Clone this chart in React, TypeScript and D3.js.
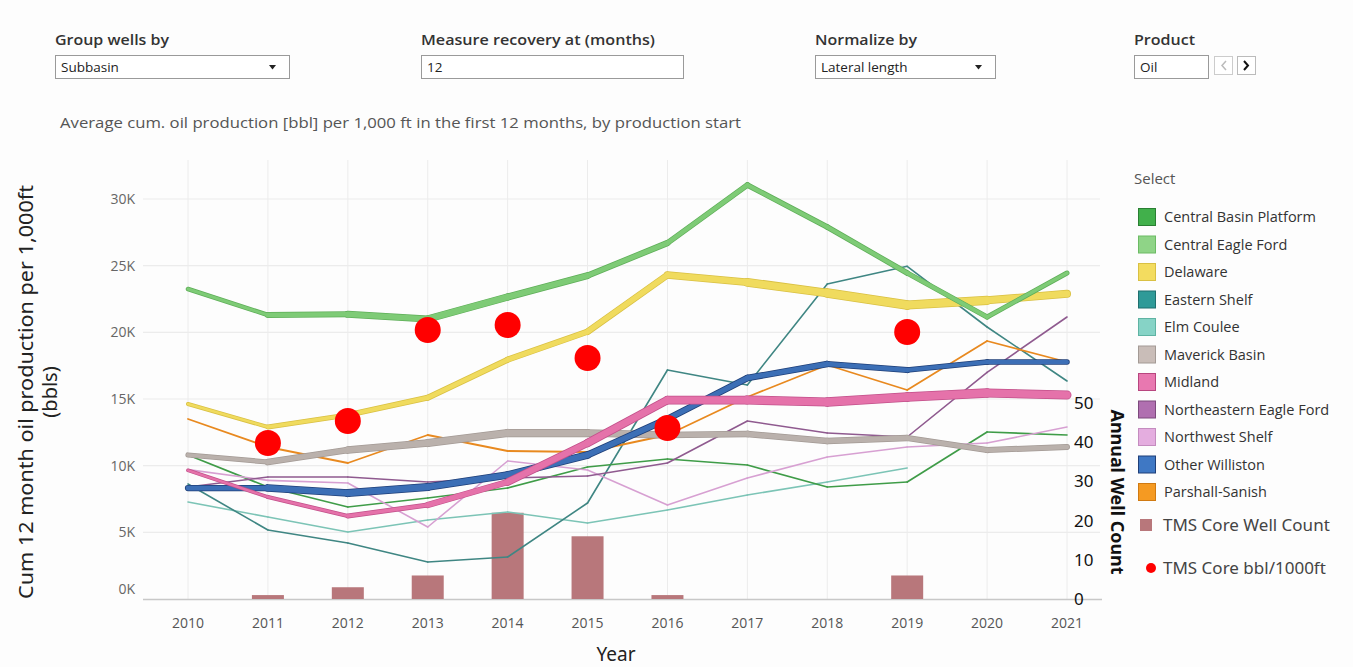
import React from "react";
import * as d3 from "d3";

const years = [2010, 2011, 2012, 2013, 2014, 2015, 2016, 2017, 2018, 2019, 2020, 2021];
const yTicks = [0, 5000, 10000, 15000, 20000, 25000, 30000];
const rightTicks = [0, 10, 20, 30, 40, 50];

const centralBasinPlatform = [10800, 8400, 6900, 7575, 8325, 9900, 10500, 10050, 8400, 8775, 12525, 12300];
const centralEagleFord = [23250, 21300, 21350, 21000, 22650, 24250, 26700, 31050, 27900, 24450, 21150, 24450];
const delaware = [14625, 12900, 13800, 15100, 17950, 20050, 24300, 23750, 22950, 22050, 22400, 22900];
const easternShelf = [8625, 5175, 4200, 2775, 3150, 7200, 17175, 16050, 23625, 24950, 20400, 16350];
const elmCoulee = [7275, 6150, 5025, 5925, 6525, 5700, 6675, 7800, 8775, 9825, null, null];
const maverickBasin = [10800, 10275, 11175, 11700, 12450, 12450, 12300, 12375, 11850, 12075, 11175, 11400];
const midland = [9650, 7650, 6225, 7050, 8775, 11700, 14925, 14925, 14775, 15150, 15450, 15300];
const northeasternEagleFord = [8400, 9150, 9150, 8775, 9075, 9225, 10200, 13350, 12450, 12150, 17000, 21150];
const northwestShelf = [9700, 8900, 8700, 5400, 10350, 9675, 7050, 9075, 10650, 11400, 11700, 12900];
const otherWilliston = [8325, 8325, 7950, 8400, 9300, 10800, 13500, 16575, 17625, 17175, 17775, 17775];
const parshallSanish = [13500, 11400, 10200, 12300, 11100, 11025, 12300, 15150, 17550, 15675, 19350, 17775];

const tmsYears = [2011, 2012, 2013, 2014, 2015, 2016, 2019];
const tmsWellCount = [1, 3, 6, 22, 16, 1, 6];
const tmsBbl = [11700, 13350, 20175, 20550, 18075, 12825, 20025];

type Series = { name: string; values: (number | null)[]; color: string; border: string; widths: number[]; legend: string; legendBorder: string };

const thin = (w: number) => years.map(() => w);

const series: Series[] = [
  { name: "Elm Coulee", values: elmCoulee, color: "#7cc4b6", border: "", widths: thin(1.6), legend: "#86d3c6", legendBorder: "#5fb3a3" },
  { name: "Eastern Shelf", values: easternShelf, color: "#3f8683", border: "", widths: thin(1.6), legend: "#2f9a98", legendBorder: "#1f6f6e" },
  { name: "Central Basin Platform", values: centralBasinPlatform, color: "#3f9c48", border: "", widths: thin(1.7), legend: "#41b04b", legendBorder: "#2a7f33" },
  { name: "Northwest Shelf", values: northwestShelf, color: "#d7a0d2", border: "", widths: thin(1.6), legend: "#e4addf", legendBorder: "#c48cbf" },
  { name: "Northeastern Eagle Ford", values: northeasternEagleFord, color: "#8f5a8f", border: "", widths: thin(1.6), legend: "#b06fb0", legendBorder: "#7d4a7d" },
  { name: "Parshall-Sanish", values: parshallSanish, color: "#e8891f", border: "", widths: thin(1.8), legend: "#f59a22", legendBorder: "#d07a12" },
  { name: "Maverick Basin", values: maverickBasin, color: "#bab1ac", border: "#a39a95", widths: [3, 4.5, 6, 6.5, 7, 6.5, 5.5, 5, 5, 5, 4.5, 4.5], legend: "#c9bdb8", legendBorder: "#a39a95" },
  { name: "Other Williston", values: otherWilliston, color: "#3c6fb6", border: "#1f3f78", widths: [4, 5.5, 7, 6.5, 6, 6, 5.5, 5, 5, 4.5, 4, 4], legend: "#3f78c4", legendBorder: "#1f3f78" },
  { name: "Midland", values: midland, color: "#e572aa", border: "#c2508a", widths: [2, 2.5, 3, 4, 6, 6.5, 7, 7.5, 8, 8, 8, 7], legend: "#e878b0", legendBorder: "#b8467f" },
  { name: "Delaware", values: delaware, color: "#f0db5e", border: "#d9c043", widths: [2, 3, 4, 4.5, 4.5, 5, 5.5, 6.5, 8, 8.5, 7, 6], legend: "#f3dc5f", legendBorder: "#d9c043" },
  { name: "Central Eagle Ford", values: centralEagleFord, color: "#7ecb76", border: "#5eae58", widths: [2, 4, 5, 6, 6, 5, 4.5, 4, 4, 4, 3.5, 3.5], legend: "#8fd487", legendBorder: "#6cbb64" },
];

const legendOrder = [
  "Central Basin Platform", "Central Eagle Ford", "Delaware", "Eastern Shelf", "Elm Coulee", "Maverick Basin",
  "Midland", "Northeastern Eagle Ford", "Northwest Shelf", "Other Williston", "Parshall-Sanish",
];

const W = 1353, H = 667;
const FONT = "'Open Sans', 'Noto Sans', sans-serif";
const CAL = "'Noto Sans', 'Open Sans', sans-serif";

export default function App() {
  const x = d3.scaleLinear().domain([2010, 2021]).range([188, 1067]);
  const y = d3.scaleLinear().domain([0, 30000]).range([599, 199]);
  const yR = d3.scaleLinear().domain([0, 50]).range([599, 403]);

  const segments = (s: Series) => {
    const out: { x1: number; y1: number; x2: number; y2: number; w: number; k: string }[] = [];
    for (let i = 0; i < years.length - 1; i++) {
      const a = s.values[i], b = s.values[i + 1];
      if (a == null || b == null) continue;
      out.push({ x1: x(years[i]), y1: y(a), x2: x(years[i + 1]), y2: y(b), w: (s.widths[i] + s.widths[i + 1]) / 2, k: s.name + i });
    }
    return out;
  };

  const controls = [
    { label: "Group wells by", x: 55, w: 234, value: "Subbasin", drop: true, tl: 114 },
    { label: "Measure recovery at (months)", x: 421, w: 262, value: "12", drop: false, tl: 234 },
    { label: "Normalize by", x: 815, w: 180, value: "Lateral length", drop: true, tl: 102 },
    { label: "Product", x: 1134, w: 74, value: "Oil", drop: false, tl: 61 },
  ];

  return (
    <svg width={W} height={H} style={{ position: "absolute", left: 0, top: 0, background: "#fff" }} fontFamily={FONT}>
      <rect x={0} y={0} width={W} height={H} fill="#fdfdfd" />
      {/* controls */}
      {controls.map((c) => (
        <g key={c.label}>
          <text x={c.x} y={45} fontSize={15} fontWeight={600} fill="#333" textLength={c.tl} lengthAdjust="spacingAndGlyphs">{c.label}</text>
          <rect x={c.x + 0.5} y={55.5} width={c.w} height={23} fill="#fff" stroke="#9a9a9a" />
          <text x={c.x + 6} y={72} fontSize={13.5} fill="#222">{c.value}</text>
          {c.drop && <path d={`M${c.x + c.w - 20},65 l7,0 l-3.5,4.5z`} fill="#222" />}
        </g>
      ))}
      <rect x={1214.5} y={56.5} width={18} height={18} fill="#fff" stroke="#ccc" />
      <path d="M1226,61 l-4,4.5 l4,4.5" fill="none" stroke="#bbb" strokeWidth={1.5} />
      <rect x={1237.5} y={56.5} width={18} height={18} fill="#fff" stroke="#bbb" />
      <path d="M1244,61 l4,4.5 l-4,4.5" fill="none" stroke="#111" strokeWidth={2} />

      <text x={60} y={128} fontSize={15} fill="#555" textLength={681} lengthAdjust="spacingAndGlyphs">Average cum. oil production [bbl] per 1,000 ft in the first 12 months, by production start</text>

      {/* grid */}
      {years.map((yr) => (
        <line key={yr} x1={x(yr)} x2={x(yr)} y1={160} y2={599} stroke="#ececec" strokeWidth={1} />
      ))}
      {yTicks.filter((t) => t > 0).map((t) => (
        <line key={t} x1={143} x2={1100} y1={y(t)} y2={y(t)} stroke="#ececec" strokeWidth={1.2} />
      ))}
      <line x1={143} x2={1102} y1={599.5} y2={599.5} stroke="#c8c8c8" strokeWidth={1.5} />

      {/* bars */}
      {tmsYears.map((yr, i) => (
        <rect key={yr} x={x(yr) - 16} y={yR(tmsWellCount[i])} width={32} height={599 - yR(tmsWellCount[i])} fill="#b8777b" />
      ))}

      {/* lines */}
      {series.map((s) => (
        <g key={s.name}>
          {s.border && segments(s).map((g) => (
            <line key={"b" + g.k} x1={g.x1} y1={g.y1} x2={g.x2} y2={g.y2} stroke={s.border} strokeWidth={g.w + 1.5} strokeLinecap="round" />
          ))}
          {segments(s).map((g) => (
            <line key={"f" + g.k} x1={g.x1} y1={g.y1} x2={g.x2} y2={g.y2} stroke={s.color} strokeWidth={g.w} strokeLinecap="round" />
          ))}
        </g>
      ))}

      {/* red dots */}
      {tmsYears.map((yr, i) => (
        <circle key={yr} cx={x(yr)} cy={y(tmsBbl[i])} r={13} fill="#ff0000" />
      ))}

      {/* left axis */}
      {yTicks.map((t) => (
        <text key={t} x={135} y={Math.min(y(t), 589)} dy="0.35em" textAnchor="end" fontSize={14} fill="#666">
          {`${t / 1000}K`}
        </text>
      ))}
      <g transform="translate(33,392) rotate(-90)">
        <text x={0} y={0} textAnchor="middle" fontSize={20} fill="#222" fontFamily={CAL} textLength={414} lengthAdjust="spacingAndGlyphs">Cum 12 month oil production per 1,000ft</text>
        <text x={0} y={24} textAnchor="middle" fontSize={20} fill="#222" fontFamily={CAL}>(bbls)</text>
      </g>

      {/* x axis */}
      {years.map((yr) => (
        <text key={yr} x={x(yr)} y={628} textAnchor="middle" fontSize={14} fill="#555">{yr}</text>
      ))}
      <text x={616} y={661} textAnchor="middle" fontSize={19} fill="#222" fontFamily={CAL}>Year</text>

      {/* right axis */}
      {rightTicks.map((t) => (
        <text key={t} x={1074} y={yR(t)} dy="0.35em" fontSize={17} fill="#111" fontFamily={CAL}>{t}</text>
      ))}
      <g transform="translate(1111,492) rotate(90)">
        <text x={0} y={0} textAnchor="middle" fontSize={17} fontWeight={700} fill="#111" fontFamily={CAL} textLength={165} lengthAdjust="spacingAndGlyphs">Annual Well Count</text>
      </g>

      {/* legend */}
      <text x={1134} y={184} fontSize={15} fill="#555">Select</text>
      {legendOrder.map((name, i) => {
        const s = series.find((q) => q.name === name)!;
        const cy = 217 + i * 27.5;
        return (
          <g key={name}>
            <rect x={1138.5} y={cy - 8.5} width={17} height={17} fill={s.legend} stroke={s.legendBorder} strokeWidth={1} />
            <text x={1164} y={cy} dy="0.35em" fontSize={14.5} fill="#333">{name}</text>
          </g>
        );
      })}
      <rect x={1140} y={519} width={12} height={12} fill="#b8777b" />
      <text x={1163} y={525} dy="0.35em" fontSize={17} fill="#444" fontFamily={CAL}>TMS Core Well Count</text>
      <circle cx={1151} cy={568} r={5} fill="#ff0000" />
      <text x={1163} y={568} dy="0.35em" fontSize={17} fill="#444" fontFamily={CAL}>TMS Core bbl/1000ft</text>
    </svg>
  );
}
